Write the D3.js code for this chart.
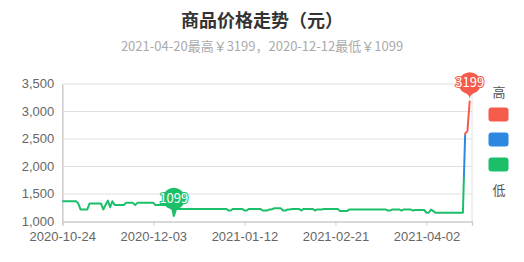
<!DOCTYPE html>
<html>
<head>
<meta charset="utf-8">
<script src="https://cdn.jsdelivr.net/npm/d3@7"></script>
<style>
  html, body { margin: 0; padding: 0; background: #fff; }
  svg { display: block; font-family: "Noto Sans CJK SC", "Noto Sans", sans-serif; }
</style>
</head>
<body>
<svg id="chart" width="524" height="262"></svg>
<script>
"use strict";
const titleText = "商品价格走势（元）";
const subtitleText = "2021-04-20最高￥3199，2020-12-12最低￥1099";
const startDate = "2020-10-24";
const endDate = "2021-04-22";
const xTickLabels = ["2020-10-24", "2020-12-03", "2021-01-12", "2021-02-21", "2021-04-02"];
const yTicks = [1000, 1500, 2000, 2500, 3000, 3500];
// one price per day, starting at startDate
const prices = [
    1369, 1369, 1369, 1369, 1369, 1369, 1369, 1329, 1219, 1219,
    1219, 1219, 1329, 1329, 1329, 1329, 1329, 1329, 1219, 1299,
    1379, 1259, 1369, 1299, 1299, 1299, 1299, 1299, 1339, 1339,
    1339, 1339, 1299, 1339, 1339, 1339, 1339, 1339, 1339, 1339,
    1339, 1299, 1299, 1299, 1299, 1299, 1299, 1299, 1299, 1099,
    1229, 1229, 1229, 1229, 1229, 1229, 1229, 1229, 1229, 1229,
    1229, 1229, 1229, 1229, 1229, 1229, 1229, 1229, 1229, 1229,
    1229, 1229, 1229, 1199, 1199, 1229, 1229, 1229, 1229, 1229,
    1199, 1199, 1229, 1229, 1229, 1229, 1229, 1229, 1199, 1199,
    1199, 1219, 1219, 1239, 1239, 1239, 1239, 1199, 1199, 1219,
    1219, 1229, 1229, 1229, 1229, 1199, 1229, 1229, 1229, 1229,
    1229, 1199, 1219, 1219, 1219, 1229, 1229, 1229, 1229, 1229,
    1229, 1229, 1189, 1189, 1189, 1189, 1219, 1219, 1219, 1219,
    1219, 1219, 1219, 1219, 1219, 1219, 1219, 1219, 1219, 1219,
    1219, 1219, 1219, 1199, 1199, 1219, 1219, 1219, 1219, 1199,
    1219, 1219, 1219, 1219, 1199, 1209, 1209, 1209, 1209, 1209,
    1159, 1159, 1219, 1189, 1159, 1159, 1159, 1159, 1159, 1159,
    1159, 1159, 1159, 1159, 1159, 1159, 1159, 2599, 2649, 3199
];
// visual map pieces, top to bottom
const pieceColors = ["#f55b4b", "#2d88e0", "#1bbf6a"];
const pieceBreaks = [2580, 1800];
const legendHigh = "高";
const legendLow = "低";

const parse = d3.timeParse("%Y-%m-%d");
const t0 = parse(startDate);
const points = prices.map((p, i) => ({ date: d3.timeDay.offset(t0, i), value: p }));

const svg = d3.select("#chart");
const gLeft = 62.3, gRight = 472, gTop = 84, gBottom = 221.5;

const x = d3.scaleTime().domain([t0, parse(endDate)]).range([gLeft, gRight]);
const y = d3.scaleLinear().domain([1000, 3500]).range([gBottom, gTop]);

// title
svg.append("text")
    .attr("x", 262).attr("y", 27)
    .attr("text-anchor", "middle")
    .attr("font-size", 18).attr("font-weight", 700)
    .attr("fill", "#333")
    .text(titleText);
svg.append("text")
    .attr("x", 262).attr("y", 51)
    .attr("text-anchor", "middle")
    .attr("font-size", 13)
    .attr("fill", "#aaa")
    .text(subtitleText);

// grid
svg.append("g")
    .selectAll("line")
    .data(yTicks.slice(1))
    .join("line")
    .attr("x1", gLeft).attr("x2", gRight)
    .attr("y1", d => y(d)).attr("y2", d => y(d))
    .attr("stroke", "#e0e0e0");
svg.append("line")
    .attr("x1", gRight).attr("x2", gRight)
    .attr("y1", gTop).attr("y2", gBottom)
    .attr("stroke", "#e0e0e0");

// y axis
const yAxis = svg.append("g")
    .attr("transform", `translate(${gLeft},0)`)
    .call(d3.axisLeft(y).tickValues(yTicks).tickFormat(d3.format(",")).tickSize(0).tickPadding(8));
yAxis.select(".domain").attr("stroke", "#ccc").attr("stroke-width", 1.5);
yAxis.selectAll("text").attr("font-size", 13).attr("fill", "#666").attr("font-family", null)
    .attr("dy", "0.3em");

// x axis
const xTickDates = xTickLabels.map(parse).concat([parse(endDate)]);
const xAxis = svg.append("g")
    .attr("transform", `translate(0,${gBottom})`)
    .call(d3.axisBottom(x).tickValues(xTickDates).tickSize(4).tickPadding(6)
        .tickFormat((d, i) => xTickLabels[i] || ""));
xAxis.select(".domain").attr("stroke", "#ccc").attr("stroke-width", 1.5);
xAxis.selectAll(".tick line").attr("stroke", "#ccc");
xAxis.selectAll("text").attr("font-size", 13).attr("fill", "#666").attr("font-family", null);

// colour by value, like a piecewise visual map
const grad = svg.append("defs").append("linearGradient")
    .attr("id", "pieces")
    .attr("gradientUnits", "userSpaceOnUse")
    .attr("x1", 0).attr("x2", 0)
    .attr("y1", y(3500)).attr("y2", y(1000));
const span = y(1000) - y(3500);
const stops = [];
stops.push({ o: 0, c: pieceColors[0] });
pieceBreaks.forEach((b, i) => {
    const o = (y(b) - y(3500)) / span;
    stops.push({ o: o, c: pieceColors[i] });
    stops.push({ o: o, c: pieceColors[i + 1] });
});
stops.push({ o: 1, c: pieceColors[pieceColors.length - 1] });
grad.selectAll("stop").data(stops).join("stop")
    .attr("offset", d => d.o).attr("stop-color", d => d.c);

const line = d3.line().x(d => x(d.date)).y(d => y(d.value));
svg.append("path")
    .datum(points)
    .attr("d", line)
    .attr("fill", "none")
    .attr("stroke", "url(#pieces)")
    .attr("stroke-width", 2)
    .attr("stroke-linejoin", "round");

function colorOf(v) {
    for (let i = 0; i < pieceBreaks.length; i++) {
        if (v >= pieceBreaks[i]) return pieceColors[i];
    }
    return pieceColors[pieceColors.length - 1];
}

// echarts-like pin, tip at (px, py)
function pinPath(px, py, width, height) {
    const w = width / 5 * 3;
    const h = Math.max(w, height);
    const r = w / 2;
    const dy = r * r / (h - r);
    const cy = py - h + r + dy;
    const angle = Math.asin(dy / r);
    const dx = Math.cos(angle) * r;
    const tanX = Math.sin(angle), tanY = Math.cos(angle);
    const cpLen = r * 0.6, cpLen2 = r * 0.7;
    const p = d3.path();
    p.moveTo(px - dx, cy + dy);
    p.arc(px, cy, r, Math.PI - angle, Math.PI * 2 + angle);
    p.bezierCurveTo(px + dx - tanX * cpLen, cy + dy + tanY * cpLen, px, py - cpLen2, px, py);
    p.bezierCurveTo(px, py - cpLen2, px - dx + tanX * cpLen, cy + dy + tanY * cpLen, px - dx, cy + dy);
    p.closePath();
    return p.toString();
}

const marks = [points[d3.maxIndex(points, d => d.value)], points[d3.minIndex(points, d => d.value)]];
const mg = svg.append("g").selectAll("g").data(marks).join("g");
mg.append("path")
    .attr("d", d => pinPath(x(d.date), y(d.value) - 1, 37, 33))
    .attr("fill", d => colorOf(d.value));
mg.append("text")
    .attr("x", d => x(d.date))
    .attr("y", d => y(d.value) - 18)
    .attr("dy", "0.36em")
    .attr("text-anchor", "middle")
    .attr("font-size", 13)
    .attr("fill", "#fff")
    .attr("stroke", d => colorOf(d.value))
    .attr("stroke-width", 2)
    .attr("paint-order", "stroke")
    .text(d => d.value);

// legend
const lg = svg.append("g");
lg.append("text").attr("x", 499).attr("y", 92).attr("dy", "0.36em")
    .attr("text-anchor", "middle").attr("font-size", 13).attr("fill", "#555").text(legendHigh);
lg.selectAll("rect").data(pieceColors).join("rect")
    .attr("x", 488.5).attr("y", (d, i) => 107.5 + i * 25)
    .attr("width", 20).attr("height", 14).attr("rx", 3)
    .attr("fill", d => d);
lg.append("text").attr("x", 499).attr("y", 190).attr("dy", "0.36em")
    .attr("text-anchor", "middle").attr("font-size", 13).attr("fill", "#555").text(legendLow);
</script>
</body>
</html>
